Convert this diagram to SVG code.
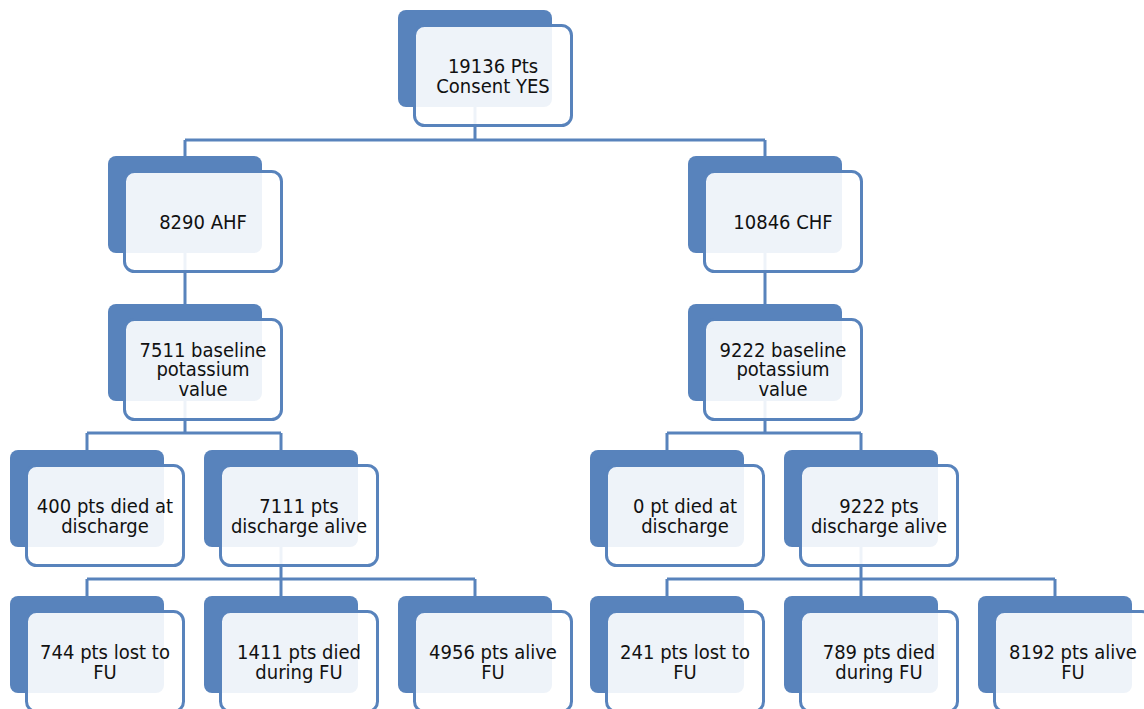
<svg xmlns="http://www.w3.org/2000/svg" width="1144" height="709" viewBox="0 0 1144 709">
<style>
.bg{fill:#ffffff}
.back{fill:#5883bc}
.front{fill:#ffffff;fill-opacity:0.9;stroke:#5883bc;stroke-width:3}
.conn{fill:none;stroke:#5883bc;stroke-width:3}
.t{font-family:"DejaVu Sans Condensed","DejaVu Sans",sans-serif;font-size:20px;fill:#111111;text-anchor:middle}
</style>
<defs>
<rect id="bk" class="back" x="0" y="0" width="154" height="97" rx="8"/>
<rect id="fr" class="front" x="16.5" y="15.5" width="157" height="100" rx="10"/>
</defs>
<rect class="bg" x="0" y="0" width="1144" height="709"/>
<g id="connectors">
<path class="conn" d="M475,107 V140 M185,140 H765 M185,140 V156 M765,140 V156"/>
<path class="conn" d="M185,253 V304 M765,253 V304"/>
<path class="conn" d="M185,400 V433 M87,433 H281 M87,433 V450 M281,433 V450"/>
<path class="conn" d="M765,400 V433 M667,433 H861 M667,433 V450 M861,433 V450"/>
<path class="conn" d="M281,546 V579 M87,579 H475 M87,579 V596 M281,579 V596 M475,579 V596"/>
<path class="conn" d="M861,546 V579 M667,579 H1055 M667,579 V596 M861,579 V596 M1055,579 V596"/>
</g>
<g id="n-top" transform="translate(398,10)">
<use href="#bk"/><use href="#fr"/>
<text class="t" x="95" y="62.5">19136 Pts</text>
<text class="t" x="95" y="82.5">Consent YES</text>
</g>
<g id="n-ahf" transform="translate(108,156)">
<use href="#bk"/><use href="#fr"/>
<text class="t" x="95" y="72.5">8290 AHF</text>
</g>
<g id="n-chf" transform="translate(688,156)">
<use href="#bk"/><use href="#fr"/>
<text class="t" x="95" y="72.5">10846 CHF</text>
</g>
<g id="n-ahf-k" transform="translate(108,304)">
<use href="#bk"/><use href="#fr"/>
<text class="t" x="95" y="52.5">7511 baseline</text>
<text class="t" x="95" y="72">potassium</text>
<text class="t" x="95" y="91.5">value</text>
</g>
<g id="n-chf-k" transform="translate(688,304)">
<use href="#bk"/><use href="#fr"/>
<text class="t" x="95" y="52.5">9222 baseline</text>
<text class="t" x="95" y="72">potassium</text>
<text class="t" x="95" y="91.5">value</text>
</g>
<g id="n-ahf-died" transform="translate(10,450)">
<use href="#bk"/><use href="#fr"/>
<text class="t" x="95" y="62.5">400 pts died at</text>
<text class="t" x="95" y="82.5">discharge</text>
</g>
<g id="n-ahf-alive" transform="translate(204,450)">
<use href="#bk"/><use href="#fr"/>
<text class="t" x="95" y="62.5">7111 pts</text>
<text class="t" x="95" y="82.5">discharge alive</text>
</g>
<g id="n-chf-died" transform="translate(590,450)">
<use href="#bk"/><use href="#fr"/>
<text class="t" x="95" y="62.5">0 pt died at</text>
<text class="t" x="95" y="82.5">discharge</text>
</g>
<g id="n-chf-alive" transform="translate(784,450)">
<use href="#bk"/><use href="#fr"/>
<text class="t" x="95" y="62.5">9222 pts</text>
<text class="t" x="95" y="82.5">discharge alive</text>
</g>
<g id="n-ahf-lost" transform="translate(10,596)">
<use href="#bk"/><use href="#fr"/>
<text class="t" x="95" y="62.5">744 pts lost to</text>
<text class="t" x="95" y="82.5">FU</text>
</g>
<g id="n-ahf-fudied" transform="translate(204,596)">
<use href="#bk"/><use href="#fr"/>
<text class="t" x="95" y="62.5">1411 pts died</text>
<text class="t" x="95" y="82.5">during FU</text>
</g>
<g id="n-ahf-fualive" transform="translate(398,596)">
<use href="#bk"/><use href="#fr"/>
<text class="t" x="95" y="62.5">4956 pts alive</text>
<text class="t" x="95" y="82.5">FU</text>
</g>
<g id="n-chf-lost" transform="translate(590,596)">
<use href="#bk"/><use href="#fr"/>
<text class="t" x="95" y="62.5">241 pts lost to</text>
<text class="t" x="95" y="82.5">FU</text>
</g>
<g id="n-chf-fudied" transform="translate(784,596)">
<use href="#bk"/><use href="#fr"/>
<text class="t" x="95" y="62.5">789 pts died</text>
<text class="t" x="95" y="82.5">during FU</text>
</g>
<g id="n-chf-fualive" transform="translate(978,596)">
<use href="#bk"/><use href="#fr"/>
<text class="t" x="95" y="62.5">8192 pts alive</text>
<text class="t" x="95" y="82.5">FU</text>
</g>
</svg>
